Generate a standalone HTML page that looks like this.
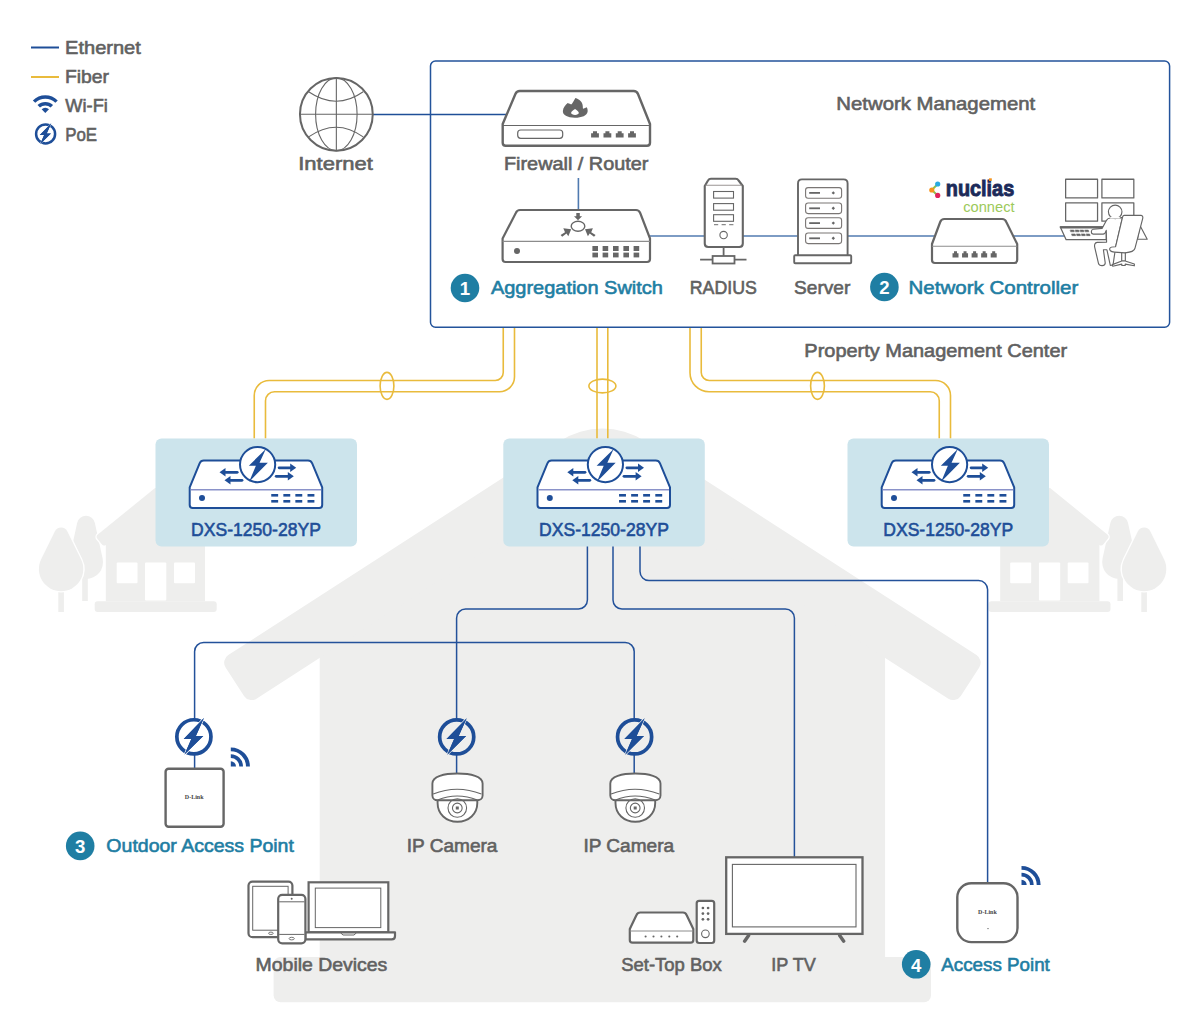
<!DOCTYPE html>
<html><head><meta charset="utf-8"><title>Network Diagram</title>
<style>
html,body{margin:0;padding:0;background:#fff;width:1201px;height:1034px;overflow:hidden}
svg{display:block}
text{font-family:"Liberation Sans",sans-serif}
.lbl{fill:#666;font-size:18px;font-weight:bold}
.tl{fill:#1f7ea3;font-size:18px;font-weight:bold}
.dx{fill:#1e4e98;font-size:17px;font-weight:bold}
.bn{fill:#fff;font-size:17px;font-weight:bold}
</style></head>
<body>
<svg width="1201" height="1034" viewBox="0 0 1201 1034">
<g><rect x="82.2" y="575" width="5.6" height="26" fill="#eeeeed"/>
<path d="M77.21,522.86 A9,9 0 0 1 94.79,522.86 L102.60,558.34 A17,17 0 1 1 69.40,558.34 Z" fill="#eeeeed"/>
<rect x="58.3" y="580" width="5.6" height="32" fill="#eeeeed"/>
<path d="M54.82,531.42 A7,7 0 0 1 67.38,531.42 L81.03,559.22 A22.2,22.2 0 1 1 41.17,559.22 Z" fill="#eeeeed" stroke="#fff" stroke-width="2.6" paint-order="stroke"/>
<path d="M97.39,538.83 A3,3 0 0 1 97.82,534.61 L155.40,487.70 L212.98,534.61 A3,3 0 0 1 213.41,538.83 L208.99,544.27 A3,3 0 0 1 204.77,544.72 L205.00,544.90 L205.00,601.30 L105.80,601.30 L105.80,544.90 L106.03,544.72 A3,3 0 0 1 101.81,544.27 Z" fill="#eeeeed" stroke="#fff" stroke-width="2.6" stroke-linejoin="round" paint-order="stroke"/>
<rect x="94.7" y="601.3" width="122" height="10.7" rx="3" fill="#eeeeed"/>
<rect x="116.7" y="562.5" width="20.8" height="20.8" rx="1" fill="#fff"/>
<rect x="145" y="562.5" width="21.3" height="38" rx="1" fill="#fff"/>
<rect x="174" y="562.5" width="21" height="20.8" rx="1" fill="#fff"/></g>
<g transform="translate(1205.2,0) scale(-1,1)"><rect x="82.2" y="575" width="5.6" height="26" fill="#eeeeed"/>
<path d="M77.21,522.86 A9,9 0 0 1 94.79,522.86 L102.60,558.34 A17,17 0 1 1 69.40,558.34 Z" fill="#eeeeed"/>
<rect x="58.3" y="580" width="5.6" height="32" fill="#eeeeed"/>
<path d="M54.82,531.42 A7,7 0 0 1 67.38,531.42 L81.03,559.22 A22.2,22.2 0 1 1 41.17,559.22 Z" fill="#eeeeed" stroke="#fff" stroke-width="2.6" paint-order="stroke"/>
<path d="M97.39,538.83 A3,3 0 0 1 97.82,534.61 L155.40,487.70 L212.98,534.61 A3,3 0 0 1 213.41,538.83 L208.99,544.27 A3,3 0 0 1 204.77,544.72 L205.00,544.90 L205.00,601.30 L105.80,601.30 L105.80,544.90 L106.03,544.72 A3,3 0 0 1 101.81,544.27 Z" fill="#eeeeed" stroke="#fff" stroke-width="2.6" stroke-linejoin="round" paint-order="stroke"/>
<rect x="94.7" y="601.3" width="122" height="10.7" rx="3" fill="#eeeeed"/>
<rect x="116.7" y="562.5" width="20.8" height="20.8" rx="1" fill="#fff"/>
<rect x="145" y="562.5" width="21.3" height="38" rx="1" fill="#fff"/>
<rect x="174" y="562.5" width="21" height="20.8" rx="1" fill="#fff"/></g>
<path d="M319.7,640 L602.4,460 L885.1,640 L885.1,960 L319.7,960 Z" fill="#eeeeed"/>
<rect x="273.6" y="957" width="657.4" height="45.3" rx="7" fill="#eeeeed"/>
<path d="M225.59,667.47 A9,9 0 0 1 228.27,655.02 L560.12,440.97 A78,78 0 0 1 644.68,440.97 L976.53,655.02 A9,9 0 0 1 979.21,667.47 L960.78,695.95 A9,9 0 0 1 948.35,698.63 L602.40,475.40 L256.45,698.63 A9,9 0 0 1 244.02,695.95 Z" fill="#eeeeed"/>
<path d="M503.25,327 V372.5 A8,8 0 0 1 495.25,380.5 H269.25 A15,15 0 0 0 254.25,395.5 V438.4" fill="none" stroke="#e9bb3c" stroke-width="1.6"/>
<path d="M514.5,327 V376.75 A15,15 0 0 1 499.5,391.75 H274.5 A9,9 0 0 0 265.5,400.75 V438.4" fill="none" stroke="#e9bb3c" stroke-width="1.6"/>
<ellipse cx="387" cy="385.9" rx="6.9" ry="13.5" fill="none" stroke="#e9bb3c" stroke-width="1.6"/>
<path d="M597,327 V438.4 M607.8,327 V438.4" fill="none" stroke="#e9bb3c" stroke-width="1.6"/>
<ellipse cx="602.4" cy="386" rx="13.5" ry="6.9" fill="none" stroke="#e9bb3c" stroke-width="1.6"/>
<path d="M690,327 V372.75 A19,19 0 0 0 709,391.75 H930.25 A9,9 0 0 1 939.25,400.75 V438.4" fill="none" stroke="#e9bb3c" stroke-width="1.6"/>
<path d="M701.25,327 V372.5 A8,8 0 0 0 709.25,380.5 H935.5 A15,15 0 0 1 950.5,395.5 V438.4" fill="none" stroke="#e9bb3c" stroke-width="1.6"/>
<ellipse cx="817.5" cy="385.9" rx="6.9" ry="13.5" fill="none" stroke="#e9bb3c" stroke-width="1.6"/>
<path d="M587.4,546 V600 A9,9 0 0 1 578.4,609 H465.6 A9,9 0 0 0 456.6,618 V720" fill="none" stroke="#23519a" stroke-width="1.5"/>
<path d="M456.6,754 V774" fill="none" stroke="#23519a" stroke-width="1.5"/>
<path d="M613,546 V600 A9,9 0 0 0 622,609 H785.4 A9,9 0 0 1 794.4,618 V857.5" fill="none" stroke="#23519a" stroke-width="1.5"/>
<path d="M640,546 V571.6 A9,9 0 0 0 649,580.6 H978.6 A9,9 0 0 1 987.6,589.6 V883.5" fill="none" stroke="#23519a" stroke-width="1.5"/>
<path d="M194.6,720 V651.5 A9,9 0 0 1 203.6,642.5 H625.2 A9,9 0 0 1 634.2,651.5 V720" fill="none" stroke="#23519a" stroke-width="1.5"/>
<path d="M194.6,754 V769 M634.2,754 V774" fill="none" stroke="#23519a" stroke-width="1.5"/>
<path d="M372.7,114.5 H508" fill="none" stroke="#1f4f98" stroke-width="1.4"/>
<path d="M578.4,178 V210" fill="none" stroke="#4f7ab0" stroke-width="1.6"/>
<path d="M650,236 H704.4 M743,236 H798 M848,236 H937 M1012.5,236 H1065" fill="none" stroke="#7d9cc4" stroke-width="2"/>
<rect x="430.5" y="61" width="739.1" height="266.2" rx="5" fill="none" stroke="#23539b" stroke-width="1.5"/>
<g fill="none" stroke="#666666"><circle cx="336.35" cy="114.3" r="36.4" stroke-width="2"/><ellipse cx="336.35" cy="114.3" rx="20.75" ry="36.4" stroke-width="1.1"/><path d="M336.35,77.9 V150.7 M299.95000000000005,114.3 H372.75" stroke-width="1.1"/><path d="M308.6,91.7 Q336.35,110.7 363.2,91.7 M308.6,136.9 Q336.35,117.5 363.2,136.9" stroke-width="1.1"/></g>
<path d="M519.7,91 H633.7 Q636.7,91 638,94 L650,124 V142.7 Q650,145.7 647,145.7 H505.7 Q502.7,145.7 502.7,142.7 V124 L515.4,94 Q516.7,91 519.7,91 Z" fill="#fff" stroke="#666666" stroke-width="2.4" stroke-linejoin="round"/>
<path d="M502.7,125.5 H650" stroke="#666666" stroke-width="1.2"/>
<rect x="517.7" y="130" width="45" height="8.3" rx="3" fill="none" stroke="#666666" stroke-width="1.2"/>
<path d="M591.1,137.6 V133.2 H593 V131.3 H597 V133.2 H598.9 V137.6 Z" fill="#666666"/>
<path d="M603.5,137.6 V133.2 H605.4 V131.3 H609.4 V133.2 H611.3 V137.6 Z" fill="#666666"/>
<path d="M615.8000000000001,137.6 V133.2 H617.7 V131.3 H621.7 V133.2 H623.6 V137.6 Z" fill="#666666"/>
<path d="M628.1,137.6 V133.2 H630 V131.3 H634 V133.2 H635.9 V137.6 Z" fill="#666666"/>
<path transform="translate(555,90) scale(0.03747)" d="M530,740 C330,740 200,660 210,560 C215,470 280,390 340,345 C380,360 420,385 445,380 C480,330 510,270 545,215 C650,250 740,330 740,420 C745,460 740,490 750,500 C790,490 820,470 845,460 C870,500 875,540 870,580 C855,680 720,740 530,740 Z M535,505 C500,530 430,570 430,610 C430,650 480,665 535,665 C590,665 635,650 635,610 C635,570 570,530 535,505 Z" fill="#666666" fill-rule="evenodd"/>
<path d="M520,210 H636 Q639,210 640.2,213 L650,238.5 V259 Q650,262 647,262 H505.6 Q502.6,262 502.6,259 V238.5 L515.8,213 Q517,210 520,210 Z" fill="#fff" stroke="#666666" stroke-width="2.2" stroke-linejoin="round"/>
<path d="M502.6,241.4 H650" stroke="#8c8c8c" stroke-width="1.2"/>
<circle cx="517" cy="251" r="3" fill="#666666"/>
<rect x="592.4" y="246" width="5.6" height="5" fill="#666666"/><rect x="592.4" y="252.6" width="5.6" height="4.8" fill="#666666"/>
<rect x="602.6" y="246" width="5.6" height="5" fill="#666666"/><rect x="602.6" y="252.6" width="5.6" height="4.8" fill="#666666"/>
<rect x="613" y="246" width="5.6" height="5" fill="#666666"/><rect x="613" y="252.6" width="5.6" height="4.8" fill="#666666"/>
<rect x="623.4" y="246" width="5.6" height="5" fill="#666666"/><rect x="623.4" y="252.6" width="5.6" height="4.8" fill="#666666"/>
<rect x="633.6" y="246" width="5.6" height="5" fill="#666666"/><rect x="633.6" y="252.6" width="5.6" height="4.8" fill="#666666"/>
<ellipse cx="578" cy="226.25" rx="6.8" ry="5" fill="none" stroke="#666666" stroke-width="1.4"/>
<path d="M576.3,212.9 H579.8 V216.2 H582.1 L578,220.2 L574,216.2 H576.3 Z" fill="#666666"/>
<path d="M560.6,235 L565,232.2 L563.3,228.3 L571.2,229.2 L568.3,236.25 L566.5,233.5 L562.2,236.8 Z" fill="#666666"/>
<path d="M595.6,235 L591.2,232.2 L592.9,228.3 L585,229.2 L587.9,236.25 L589.7,233.5 L594,236.8 Z" fill="#666666"/>
<path d="M704.75,186 L708,180.5 Q709,178.7 711,178.7 H735.6 Q737.6,178.7 738.6,180.5 L742.8,186 V243.5 Q742.8,247 739.3,247 H708.25 Q704.75,247 704.75,243.5 Z" fill="#fff" stroke="#666666" stroke-width="2.1" stroke-linejoin="round"/>
<path d="M705.5,185.2 H742" stroke="#9a9593" stroke-width="1.1"/>
<rect x="713.6" y="191.5" width="19.9" height="6.6" fill="none" stroke="#666666" stroke-width="1.1"/>
<rect x="713.6" y="203.6" width="19.9" height="6.6" fill="none" stroke="#666666" stroke-width="1.1"/>
<rect x="713.6" y="214.7" width="19.9" height="6.6" fill="none" stroke="#666666" stroke-width="1.1"/>
<path d="M714,224.7 H718.2 M721.6,224.7 H725.8 M729.2,224.7 H733.4" stroke="#8a8a8a" stroke-width="1.2"/>
<circle cx="723.6" cy="235.1" r="3.7" fill="none" stroke="#666666" stroke-width="1.1"/>
<path d="M723.6,247 V256 M700.1,259.7 H712.6 M734.5,259.7 H746.5" stroke="#666666" stroke-width="1.8"/>
<rect x="712.6" y="256" width="21.9" height="7.5" fill="#fff" stroke="#666666" stroke-width="1.8"/>
<path d="M802,179.4 H843.6 Q847.6,179.4 847.6,183.4 V256 H798 V183.4 Q798,179.4 802,179.4 Z" fill="#fff" stroke="#666666" stroke-width="1.9"/>
<rect x="794.2" y="255.2" width="57" height="8" rx="1" fill="#fff" stroke="#666666" stroke-width="1.9"/>
<rect x="805.6" y="187.6" width="36" height="10.6" rx="2.5" fill="none" stroke="#7a7674" stroke-width="1.1"/>
<path d="M809.2,192.9 H820" stroke="#666666" stroke-width="1.8"/><path d="M833.3,191.2 L835,192.9 L833.3,194.6 L831.6,192.9 Z" fill="#666666"/>
<rect x="805.6" y="203" width="36" height="10.6" rx="2.5" fill="none" stroke="#7a7674" stroke-width="1.1"/>
<path d="M809.2,208.3 H820" stroke="#666666" stroke-width="1.8"/><path d="M833.3,206.6 L835,208.3 L833.3,210 L831.6,208.3 Z" fill="#666666"/>
<rect x="805.6" y="217.8" width="36" height="10.6" rx="2.5" fill="none" stroke="#7a7674" stroke-width="1.1"/>
<path d="M809.2,223.10000000000002 H820" stroke="#666666" stroke-width="1.8"/><path d="M833.3,221.4 L835,223.10000000000002 L833.3,224.8 L831.6,223.10000000000002 Z" fill="#666666"/>
<rect x="805.6" y="233" width="36" height="10.6" rx="2.5" fill="none" stroke="#7a7674" stroke-width="1.1"/>
<path d="M809.2,238.3 H820" stroke="#666666" stroke-width="1.8"/><path d="M833.3,236.6 L835,238.3 L833.3,240 L831.6,238.3 Z" fill="#666666"/>
<path d="M944.3,219 H1002.2 Q1005.2,219 1006.3,222 L1017.2,244 V260 Q1017.2,263 1014.2,263 H935 Q932,263 932,260 V244 L940.2,222 Q941.3,219 944.3,219 Z" fill="#fff" stroke="#666666" stroke-width="2.2" stroke-linejoin="round"/>
<path d="M932,246.3 H1017.2" stroke="#8c8c8c" stroke-width="1.1"/>
<path d="M952.5,257.5 V253.3 H954.0 V251.3 H957.0 V253.3 H958.5 V257.5 Z" fill="#666666"/>
<path d="M962.05,257.5 V253.3 H963.55 V251.3 H966.55 V253.3 H968.05 V257.5 Z" fill="#666666"/>
<path d="M971.6,257.5 V253.3 H973.1 V251.3 H976.1 V253.3 H977.6 V257.5 Z" fill="#666666"/>
<path d="M981.15,257.5 V253.3 H982.65 V251.3 H985.65 V253.3 H987.15 V257.5 Z" fill="#666666"/>
<path d="M990.7,257.5 V253.3 H992.2 V251.3 H995.2 V253.3 H996.7 V257.5 Z" fill="#666666"/>
<path d="M937.7,184 L931.8,190 L937.7,195.4" fill="none" stroke="#8cc152" stroke-width="2"/>
<circle cx="937.7" cy="184" r="2.6" fill="#29abe2"/><circle cx="931.8" cy="190" r="2.6" fill="#f7941d"/><circle cx="937.7" cy="195.4" r="2.6" fill="#e0245e"/>
<text x="945.8" y="195.9" textLength="68.4" lengthAdjust="spacingAndGlyphs" style="font-size:22px;font-weight:bold;fill:#1c2a5a;stroke:#1c2a5a;stroke-width:0.9">nuclias</text>
<rect x="989" y="178.3" width="2.8" height="2.6" fill="#f7941d"/>
<text x="963.2" y="211.7" textLength="51.4" lengthAdjust="spacingAndGlyphs" style="font-size:15.2px;fill:#9cc95a">connect</text>
<g transform="translate(1055,172) scale(0.09671)" fill="#fff" stroke="#666666" stroke-width="13" stroke-linejoin="round" stroke-linecap="round">
<rect x="110" y="75" width="330" height="193"/>
<rect x="485" y="75" width="330" height="193"/>
<rect x="110" y="318" width="330" height="190"/>
<rect x="485" y="318" width="330" height="190"/>
<path d="M55,568 L530,568 L530,700 L115,700 Z"/>
<path d="M60,572 L528,572" stroke-width="22"/>
<path d="M160,601 h34 l5,17 h-34 Z" fill="#666666" stroke-width="6"/>
<path d="M210,601 h34 l5,17 h-34 Z" fill="#666666" stroke-width="6"/>
<path d="M260,601 h34 l5,17 h-34 Z" fill="#666666" stroke-width="6"/>
<path d="M310,601 h34 l5,17 h-34 Z" fill="#666666" stroke-width="6"/>
<path d="M174,641 h34 l5,17 h-34 Z" fill="#666666" stroke-width="6"/>
<path d="M224,641 h34 l5,17 h-34 Z" fill="#666666" stroke-width="6"/>
<path d="M274,641 h34 l5,17 h-34 Z" fill="#666666" stroke-width="6"/>
<path d="M324,641 h34 l5,17 h-34 Z" fill="#666666" stroke-width="6"/>
</g>
<g transform="translate(1090,200) scale(0.06770)" fill="#fff" stroke="#666666" stroke-width="17" stroke-linejoin="round" stroke-linecap="round">
<path d="M740,380 L845,580 L700,580 Z"/>
<path d="M318,268 C285,262 255,280 240,305 L178,420 L48,432 C12,436 8,502 48,505 L192,505 C218,503 232,478 240,448 L245,622 L105,625 C72,628 62,665 70,700 L125,935 C140,985 225,980 225,930 L198,735 L250,735 L300,965 L340,960 L380,690 L480,255 L440,268 Z"/>
<circle cx="372" cy="175" r="100"/>
<path d="M300,250 L440,250 L440,275 L300,275 Z" stroke="none"/>
<path d="M505,228 L755,228 C778,230 785,250 778,275 L665,712 C655,760 610,772 520,780 L360,770 C300,765 285,740 292,715 C298,695 330,690 378,690 L480,255 C485,238 492,228 505,228 Z"/>
<path d="M468,782 V895 M522,782 V895"/>
<path d="M330,955 L470,900 L520,900 L655,945 L655,972 L520,948 L520,968 L470,968 L470,948 L335,978 Z"/>
</g>
<rect x="155.5" y="438.4" width="201.5" height="108.2" rx="6" fill="#cce4ec"/>
<g transform="translate(155.5,438.4)">
<path d="M50.3,22.2 H152.5 Q155.5,22.2 156.7,25 L166.7,49 V66.7 Q166.7,69.7 163.7,69.7 H37.2 Q34.2,69.7 34.2,66.7 V49 L44.1,25 Q45.3,22.2 48.3,22.2 Z" fill="#fff" stroke="#1e4e98" stroke-width="2" stroke-linejoin="round"/>
<path d="M35.2,51.4 H165.7" stroke="#8a92c9" stroke-width="1.4"/>
<circle cx="46.5" cy="59.7" r="3" fill="#1e4e98"/>
<rect x="115.75" y="55.6" width="6.9" height="2.6" fill="#1e4e98"/><rect x="115.75" y="61.6" width="6.9" height="2.6" fill="#1e4e98"/>
<rect x="127.85000000000001" y="55.6" width="6.9" height="2.6" fill="#1e4e98"/><rect x="127.85000000000001" y="61.6" width="6.9" height="2.6" fill="#1e4e98"/>
<rect x="139.85000000000002" y="55.6" width="6.9" height="2.6" fill="#1e4e98"/><rect x="139.85000000000002" y="61.6" width="6.9" height="2.6" fill="#1e4e98"/>
<rect x="152.0" y="55.6" width="6.9" height="2.6" fill="#1e4e98"/><rect x="152.0" y="61.6" width="6.9" height="2.6" fill="#1e4e98"/>
<path d="M81.7,33.9 H70" stroke="#1e4e98" stroke-width="2.8" stroke-linecap="round"/>
<path d="M64,33.9 L70,29.7 L70,38.1 Z" fill="#1e4e98"/>
<path d="M86.5,41.9 H75" stroke="#1e4e98" stroke-width="2.8" stroke-linecap="round"/>
<path d="M69,41.9 L75,37.699999999999996 L75,46.1 Z" fill="#1e4e98"/>
<path d="M123.6,29.4 H134.7" stroke="#1e4e98" stroke-width="2.8" stroke-linecap="round"/>
<path d="M140.7,29.4 L134.7,25.2 L134.7,33.6 Z" fill="#1e4e98"/>
<path d="M120.7,37.9 H132.3" stroke="#1e4e98" stroke-width="2.8" stroke-linecap="round"/>
<path d="M138.3,37.9 L132.3,33.699999999999996 L132.3,42.1 Z" fill="#1e4e98"/>
<circle cx="102.1" cy="26.2" r="17.6" fill="#fff" stroke="#1e4e98" stroke-width="2"/>
<polygon points="110.34,10.58 93.33,27.27 100.39,27.27 93.65,43.32 112.37,24.38 104.03,24.38" fill="#1e4e98"/>
</g>
<rect x="503.3" y="438.4" width="201.5" height="108.2" rx="6" fill="#cce4ec"/>
<g transform="translate(503.3,438.4)">
<path d="M50.3,22.2 H152.5 Q155.5,22.2 156.7,25 L166.7,49 V66.7 Q166.7,69.7 163.7,69.7 H37.2 Q34.2,69.7 34.2,66.7 V49 L44.1,25 Q45.3,22.2 48.3,22.2 Z" fill="#fff" stroke="#1e4e98" stroke-width="2" stroke-linejoin="round"/>
<path d="M35.2,51.4 H165.7" stroke="#8a92c9" stroke-width="1.4"/>
<circle cx="46.5" cy="59.7" r="3" fill="#1e4e98"/>
<rect x="115.75" y="55.6" width="6.9" height="2.6" fill="#1e4e98"/><rect x="115.75" y="61.6" width="6.9" height="2.6" fill="#1e4e98"/>
<rect x="127.85000000000001" y="55.6" width="6.9" height="2.6" fill="#1e4e98"/><rect x="127.85000000000001" y="61.6" width="6.9" height="2.6" fill="#1e4e98"/>
<rect x="139.85000000000002" y="55.6" width="6.9" height="2.6" fill="#1e4e98"/><rect x="139.85000000000002" y="61.6" width="6.9" height="2.6" fill="#1e4e98"/>
<rect x="152.0" y="55.6" width="6.9" height="2.6" fill="#1e4e98"/><rect x="152.0" y="61.6" width="6.9" height="2.6" fill="#1e4e98"/>
<path d="M81.7,33.9 H70" stroke="#1e4e98" stroke-width="2.8" stroke-linecap="round"/>
<path d="M64,33.9 L70,29.7 L70,38.1 Z" fill="#1e4e98"/>
<path d="M86.5,41.9 H75" stroke="#1e4e98" stroke-width="2.8" stroke-linecap="round"/>
<path d="M69,41.9 L75,37.699999999999996 L75,46.1 Z" fill="#1e4e98"/>
<path d="M123.6,29.4 H134.7" stroke="#1e4e98" stroke-width="2.8" stroke-linecap="round"/>
<path d="M140.7,29.4 L134.7,25.2 L134.7,33.6 Z" fill="#1e4e98"/>
<path d="M120.7,37.9 H132.3" stroke="#1e4e98" stroke-width="2.8" stroke-linecap="round"/>
<path d="M138.3,37.9 L132.3,33.699999999999996 L132.3,42.1 Z" fill="#1e4e98"/>
<circle cx="102.1" cy="26.2" r="17.6" fill="#fff" stroke="#1e4e98" stroke-width="2"/>
<polygon points="110.34,10.58 93.33,27.27 100.39,27.27 93.65,43.32 112.37,24.38 104.03,24.38" fill="#1e4e98"/>
</g>
<rect x="847.5" y="438.4" width="201.5" height="108.2" rx="6" fill="#cce4ec"/>
<g transform="translate(847.5,438.4)">
<path d="M50.3,22.2 H152.5 Q155.5,22.2 156.7,25 L166.7,49 V66.7 Q166.7,69.7 163.7,69.7 H37.2 Q34.2,69.7 34.2,66.7 V49 L44.1,25 Q45.3,22.2 48.3,22.2 Z" fill="#fff" stroke="#1e4e98" stroke-width="2" stroke-linejoin="round"/>
<path d="M35.2,51.4 H165.7" stroke="#8a92c9" stroke-width="1.4"/>
<circle cx="46.5" cy="59.7" r="3" fill="#1e4e98"/>
<rect x="115.75" y="55.6" width="6.9" height="2.6" fill="#1e4e98"/><rect x="115.75" y="61.6" width="6.9" height="2.6" fill="#1e4e98"/>
<rect x="127.85000000000001" y="55.6" width="6.9" height="2.6" fill="#1e4e98"/><rect x="127.85000000000001" y="61.6" width="6.9" height="2.6" fill="#1e4e98"/>
<rect x="139.85000000000002" y="55.6" width="6.9" height="2.6" fill="#1e4e98"/><rect x="139.85000000000002" y="61.6" width="6.9" height="2.6" fill="#1e4e98"/>
<rect x="152.0" y="55.6" width="6.9" height="2.6" fill="#1e4e98"/><rect x="152.0" y="61.6" width="6.9" height="2.6" fill="#1e4e98"/>
<path d="M81.7,33.9 H70" stroke="#1e4e98" stroke-width="2.8" stroke-linecap="round"/>
<path d="M64,33.9 L70,29.7 L70,38.1 Z" fill="#1e4e98"/>
<path d="M86.5,41.9 H75" stroke="#1e4e98" stroke-width="2.8" stroke-linecap="round"/>
<path d="M69,41.9 L75,37.699999999999996 L75,46.1 Z" fill="#1e4e98"/>
<path d="M123.6,29.4 H134.7" stroke="#1e4e98" stroke-width="2.8" stroke-linecap="round"/>
<path d="M140.7,29.4 L134.7,25.2 L134.7,33.6 Z" fill="#1e4e98"/>
<path d="M120.7,37.9 H132.3" stroke="#1e4e98" stroke-width="2.8" stroke-linecap="round"/>
<path d="M138.3,37.9 L132.3,33.699999999999996 L132.3,42.1 Z" fill="#1e4e98"/>
<circle cx="102.1" cy="26.2" r="17.6" fill="#fff" stroke="#1e4e98" stroke-width="2"/>
<polygon points="110.34,10.58 93.33,27.27 100.39,27.27 93.65,43.32 112.37,24.38 104.03,24.38" fill="#1e4e98"/>
</g>
<circle cx="193.9" cy="736.8" r="17.05" fill="none" stroke="#1e4e98" stroke-width="3.70"/><polygon points="203.90,718.10 183.70,738.90 191.30,738.90 184.50,754.60 203.30,736.00 195.90,736.00" fill="#1e4e98" stroke="#fff" stroke-width="1.60" stroke-linejoin="miter" paint-order="stroke"/><polygon points="203.90,718.10 183.70,738.90 191.30,738.90 184.50,754.60 203.30,736.00 195.90,736.00" fill="#1e4e98"/>
<rect x="165.6" y="768.8" width="58" height="58" rx="3" fill="#fff" stroke="#666666" stroke-width="2.4"/>
<text x="194.2" y="799.2" text-anchor="middle" style="font-family:'Liberation Serif',serif;font-size:6px;font-weight:bold;fill:#444">D-Link</text>
<path d="M230.8,766.5 V761.3 A5.2,5.2 0 0 1 236.0,766.5 Z" fill="#1e4e98"/>
<path d="M230.8,756.15 A10.35,10.35 0 0 1 241.15,766.5" fill="none" stroke="#1e4e98" stroke-width="3.7"/>
<path d="M230.8,749.35 A17.15,17.15 0 0 1 247.95000000000002,766.5" fill="none" stroke="#1e4e98" stroke-width="3.9"/>
<circle cx="456.7" cy="736.9" r="17.05" fill="none" stroke="#1e4e98" stroke-width="3.70"/><polygon points="466.70,718.20 446.50,739.00 454.10,739.00 447.30,754.70 466.10,736.10 458.70,736.10" fill="#1e4e98" stroke="#eeeeed" stroke-width="1.60" stroke-linejoin="miter" paint-order="stroke"/><polygon points="466.70,718.20 446.50,739.00 454.10,739.00 447.30,754.70 466.10,736.10 458.70,736.10" fill="#1e4e98"/>
<g transform="translate(0.0,0)" stroke="#666666" fill="#fff">
<path d="M437.6,799 V803 C437.6,814 446,821.7 457.4,821.7 C468.8,821.7 477.3,814 477.3,803 V799 Z" stroke-width="1.9"/>
<path d="M432.4,795.5 V783.5 C432.4,776.5 444,773.5 457.4,773.5 C470.8,773.5 482.6,776.5 482.6,783.5 V795.5 C482.6,798.5 480,800.3 477.3,800.3 L437.6,800.3 C435,800.3 432.4,798.5 432.4,795.5 Z" stroke-width="1.9" stroke-linejoin="round"/>
<path d="M433.2,794 Q457,784.5 481.4,794" fill="none" stroke-width="1.1"/>
<path d="M437.6,800 Q457,792 477.3,800" fill="none" stroke-width="1.1"/>
<circle cx="457.3" cy="808" r="9.3" fill="none" stroke-width="1.1"/><circle cx="457.3" cy="808" r="4.85" fill="none" stroke-width="1.1"/>
<rect x="455.8" y="806.5" width="3" height="3" fill="#666666" stroke="none"/>
</g>
<circle cx="634.6" cy="736.9" r="17.05" fill="none" stroke="#1e4e98" stroke-width="3.70"/><polygon points="644.60,718.20 624.40,739.00 632.00,739.00 625.20,754.70 644.00,736.10 636.60,736.10" fill="#1e4e98" stroke="#eeeeed" stroke-width="1.60" stroke-linejoin="miter" paint-order="stroke"/><polygon points="644.60,718.20 624.40,739.00 632.00,739.00 625.20,754.70 644.00,736.10 636.60,736.10" fill="#1e4e98"/>
<g transform="translate(177.89999999999998,0)" stroke="#666666" fill="#fff">
<path d="M437.6,799 V803 C437.6,814 446,821.7 457.4,821.7 C468.8,821.7 477.3,814 477.3,803 V799 Z" stroke-width="1.9"/>
<path d="M432.4,795.5 V783.5 C432.4,776.5 444,773.5 457.4,773.5 C470.8,773.5 482.6,776.5 482.6,783.5 V795.5 C482.6,798.5 480,800.3 477.3,800.3 L437.6,800.3 C435,800.3 432.4,798.5 432.4,795.5 Z" stroke-width="1.9" stroke-linejoin="round"/>
<path d="M433.2,794 Q457,784.5 481.4,794" fill="none" stroke-width="1.1"/>
<path d="M437.6,800 Q457,792 477.3,800" fill="none" stroke-width="1.1"/>
<circle cx="457.3" cy="808" r="9.3" fill="none" stroke-width="1.1"/><circle cx="457.3" cy="808" r="4.85" fill="none" stroke-width="1.1"/>
<rect x="455.8" y="806.5" width="3" height="3" fill="#666666" stroke="none"/>
</g>
<rect x="726.2" y="857.3" width="136.3" height="76.6" fill="#fff" stroke="#666666" stroke-width="2.3"/>
<rect x="732.4" y="864.4" width="123.6" height="62.5" fill="none" stroke="#666666" stroke-width="1.1"/>
<path d="M748.6,935.5 L744.6,941.2 M839.7,935.5 L843.7,941.2" stroke="#666666" stroke-width="3.4" stroke-linecap="round"/>
<path d="M642.3,912.5 H683 Q685.6,912.5 686.6,915 L693.3,929 V940 Q693.3,942.7 690.6,942.7 H632.5 Q629.8,942.7 629.8,940 V929 L636.5,915 Q637.5,912.5 640.3,912.5 Z" fill="#fff" stroke="#666666" stroke-width="2.2" stroke-linejoin="round"/>
<path d="M629.8,931 H693.3" stroke="#8c8c8c" stroke-width="1"/>
<circle cx="645.6" cy="936.5" r="1.05" fill="#666666"/>
<circle cx="653.5" cy="936.5" r="1.05" fill="#666666"/>
<circle cx="661.4" cy="936.5" r="1.05" fill="#666666"/>
<circle cx="669.3" cy="936.5" r="1.05" fill="#666666"/>
<circle cx="677.2" cy="936.5" r="1.05" fill="#666666"/>
<rect x="696.7" y="900.8" width="17.5" height="42.2" rx="2.5" fill="#fff" stroke="#666666" stroke-width="2.2"/>
<circle cx="702.9" cy="908" r="1.35" fill="#666666"/><circle cx="708.1" cy="908" r="1.35" fill="#666666"/>
<circle cx="702.9" cy="913.6" r="1.35" fill="#666666"/><circle cx="708.1" cy="913.6" r="1.35" fill="#666666"/>
<circle cx="702.9" cy="919.3" r="1.35" fill="#666666"/><circle cx="708.1" cy="919.3" r="1.35" fill="#666666"/>
<circle cx="705.4" cy="933.8" r="3.8" fill="none" stroke="#666666" stroke-width="1.1"/>
<rect x="248.5" y="881.6" width="43.9" height="55.6" rx="4" fill="#fff" stroke="#666666" stroke-width="2.2"/>
<rect x="252.7" y="886.3" width="35.4" height="43.9" fill="none" stroke="#666666" stroke-width="1"/>
<ellipse cx="270.9" cy="933.3" rx="2.3" ry="1.2" fill="none" stroke="#666666" stroke-width="0.9"/>
<rect x="308.6" y="882.3" width="79.7" height="50" fill="#fff" stroke="#666666" stroke-width="2.2"/>
<rect x="315.3" y="888.1" width="65.5" height="39.5" fill="none" stroke="#666666" stroke-width="1"/>
<path d="M305.4,932.3 H395 V936 Q395,939.4 391.6,939.4 H305.4 Z" fill="#fff" stroke="#666666" stroke-width="2.2" stroke-linejoin="round"/>
<path d="M340.5,932.8 L343,935 H354 L356.5,932.8" fill="none" stroke="#666666" stroke-width="1"/>
<rect x="278.2" y="894.8" width="27.2" height="48.5" rx="4" fill="#fff" stroke="#666666" stroke-width="2.2"/>
<path d="M279.2,901.8 H304.4 M279.2,934.4 H304.4" stroke="#666666" stroke-width="1"/>
<circle cx="291.7" cy="898.7" r="1" fill="#666666"/><ellipse cx="291.7" cy="938.6" rx="2.6" ry="1.3" fill="none" stroke="#666666" stroke-width="0.9"/>
<rect x="957.3" y="883.3" width="60.2" height="58.8" rx="14" fill="#fff" stroke="#666666" stroke-width="2.4"/>
<text x="987.4" y="914" text-anchor="middle" style="font-family:'Liberation Serif',serif;font-size:6px;font-weight:bold;fill:#444">D-Link</text>
<circle cx="988" cy="928.6" r="0.7" fill="#555"/>
<path d="M1021.5,885 V879.8 A5.2,5.2 0 0 1 1026.7,885 Z" fill="#1e4e98"/>
<path d="M1021.5,874.65 A10.35,10.35 0 0 1 1031.85,885" fill="none" stroke="#1e4e98" stroke-width="3.7"/>
<path d="M1021.5,867.85 A17.15,17.15 0 0 1 1038.65,885" fill="none" stroke="#1e4e98" stroke-width="3.9"/>
<line x1="31" y1="47.5" x2="59" y2="47.5" stroke="#1e4e98" stroke-width="2"/>
<line x1="31" y1="77" x2="59" y2="77" stroke="#e9bb3c" stroke-width="2"/>
<path d="M34.06,101.66 A15.9,15.9 0 0 1 56.54,101.66" fill="none" stroke="#1e4e98" stroke-width="3.4"/>
<path d="M38.76,106.36 A9.25,9.25 0 0 1 51.84,106.36" fill="none" stroke="#1e4e98" stroke-width="3.5"/>
<path d="M45.3,112.9 L41.62,109.22 A5.2,5.2 0 0 1 48.98,109.22 Z" fill="#1e4e98"/>
<circle cx="45.6" cy="133.9" r="9.50" fill="none" stroke="#1e4e98" stroke-width="2.50"/><polygon points="51.29,123.26 39.80,135.09 44.12,135.09 40.25,144.03 50.95,133.44 46.74,133.44" fill="#1e4e98" stroke="#fff" stroke-width="0.91" stroke-linejoin="miter" paint-order="stroke"/><polygon points="51.29,123.26 39.80,135.09 44.12,135.09 40.25,144.03 50.95,133.44 46.74,133.44" fill="#1e4e98"/>
<text x="65.06" y="53.9" textLength="75.79" lengthAdjust="spacingAndGlyphs" style="font-size:18.6px;font-weight:normal;fill:#616161;stroke:#616161;stroke-width:0.6">Ethernet</text>
<text x="65.02" y="82.8" textLength="44.01" lengthAdjust="spacingAndGlyphs" style="font-size:18.6px;font-weight:normal;fill:#616161;stroke:#616161;stroke-width:0.6">Fiber</text>
<text x="65.32" y="111.9" textLength="42.51" lengthAdjust="spacingAndGlyphs" style="font-size:18.6px;font-weight:normal;fill:#616161;stroke:#616161;stroke-width:0.6">Wi-Fi</text>
<text x="65.22" y="140.9" textLength="31.91" lengthAdjust="spacingAndGlyphs" style="font-size:18.6px;font-weight:normal;fill:#616161;stroke:#616161;stroke-width:0.6">PoE</text>
<text x="298.27" y="170" textLength="74.49" lengthAdjust="spacingAndGlyphs" style="font-size:18.6px;font-weight:normal;fill:#616161;stroke:#616161;stroke-width:0.6">Internet</text>
<text x="503.97" y="170" textLength="144.46" lengthAdjust="spacingAndGlyphs" style="font-size:18.6px;font-weight:normal;fill:#616161;stroke:#616161;stroke-width:0.6">Firewall / Router</text>
<text x="836.33" y="109.9" textLength="198.82" lengthAdjust="spacingAndGlyphs" style="font-size:18.6px;font-weight:normal;fill:#616161;stroke:#616161;stroke-width:0.6">Network Management</text>
<text x="490.96" y="294" textLength="171.93" lengthAdjust="spacingAndGlyphs" style="font-size:18.6px;font-weight:normal;fill:#1f7ea3;stroke:#1f7ea3;stroke-width:0.6">Aggregation Switch</text>
<text x="689.74" y="294" textLength="67.07" lengthAdjust="spacingAndGlyphs" style="font-size:18.6px;font-weight:normal;fill:#616161;stroke:#616161;stroke-width:0.6">RADIUS</text>
<text x="794.13" y="294" textLength="56.18" lengthAdjust="spacingAndGlyphs" style="font-size:18.6px;font-weight:normal;fill:#616161;stroke:#616161;stroke-width:0.6">Server</text>
<text x="908.52" y="294" textLength="169.82" lengthAdjust="spacingAndGlyphs" style="font-size:18.6px;font-weight:normal;fill:#1f7ea3;stroke:#1f7ea3;stroke-width:0.6">Network Controller</text>
<text x="804.36" y="356.9" textLength="262.77" lengthAdjust="spacingAndGlyphs" style="font-size:18.6px;font-weight:normal;fill:#616161;stroke:#616161;stroke-width:0.6">Property Management Center</text>
<circle cx="465" cy="288" r="14.3" fill="#1f7ea3"/>
<text x="465" y="295.4" text-anchor="middle" style="font-size:18.6px;font-weight:bold;fill:#fff">1</text>
<circle cx="884.4" cy="287" r="14.3" fill="#1f7ea3"/>
<text x="884.4" y="294.4" text-anchor="middle" style="font-size:18.6px;font-weight:bold;fill:#fff">2</text>
<circle cx="80.2" cy="845.9" r="14.3" fill="#1f7ea3"/>
<text x="80.2" y="853.3" text-anchor="middle" style="font-size:18.6px;font-weight:bold;fill:#fff">3</text>
<circle cx="916.2" cy="964.3" r="14.3" fill="#1f7ea3"/>
<text x="916.2" y="971.6999999999999" text-anchor="middle" style="font-size:18.6px;font-weight:bold;fill:#fff">4</text>
<text x="106.38" y="852" textLength="187.46" lengthAdjust="spacingAndGlyphs" style="font-size:18.6px;font-weight:normal;fill:#1f7ea3;stroke:#1f7ea3;stroke-width:0.6">Outdoor Access Point</text>
<text x="406.75" y="852" textLength="90.65" lengthAdjust="spacingAndGlyphs" style="font-size:18.6px;font-weight:normal;fill:#616161;stroke:#616161;stroke-width:0.6">IP Camera</text>
<text x="583.45" y="852" textLength="90.65" lengthAdjust="spacingAndGlyphs" style="font-size:18.6px;font-weight:normal;fill:#616161;stroke:#616161;stroke-width:0.6">IP Camera</text>
<text x="255.61" y="971" textLength="131.70" lengthAdjust="spacingAndGlyphs" style="font-size:18.6px;font-weight:normal;fill:#616161;stroke:#616161;stroke-width:0.6">Mobile Devices</text>
<text x="621.18" y="971" textLength="100.62" lengthAdjust="spacingAndGlyphs" style="font-size:18.6px;font-weight:normal;fill:#616161;stroke:#616161;stroke-width:0.6">Set-Top Box</text>
<text x="771.36" y="971" textLength="44.42" lengthAdjust="spacingAndGlyphs" style="font-size:18.6px;font-weight:normal;fill:#616161;stroke:#616161;stroke-width:0.6">IP TV</text>
<text x="941.26" y="971" textLength="108.57" lengthAdjust="spacingAndGlyphs" style="font-size:18.6px;font-weight:normal;fill:#1f7ea3;stroke:#1f7ea3;stroke-width:0.6">Access Point</text>
<text x="191.06" y="535.9" textLength="129.87" lengthAdjust="spacingAndGlyphs" style="font-size:18.6px;font-weight:normal;fill:#1e4e98;stroke:#1e4e98;stroke-width:0.6">DXS-1250-28YP</text>
<text x="539.06" y="535.9" textLength="129.87" lengthAdjust="spacingAndGlyphs" style="font-size:18.6px;font-weight:normal;fill:#1e4e98;stroke:#1e4e98;stroke-width:0.6">DXS-1250-28YP</text>
<text x="883.26" y="535.9" textLength="129.87" lengthAdjust="spacingAndGlyphs" style="font-size:18.6px;font-weight:normal;fill:#1e4e98;stroke:#1e4e98;stroke-width:0.6">DXS-1250-28YP</text>
</svg>
</body></html>
